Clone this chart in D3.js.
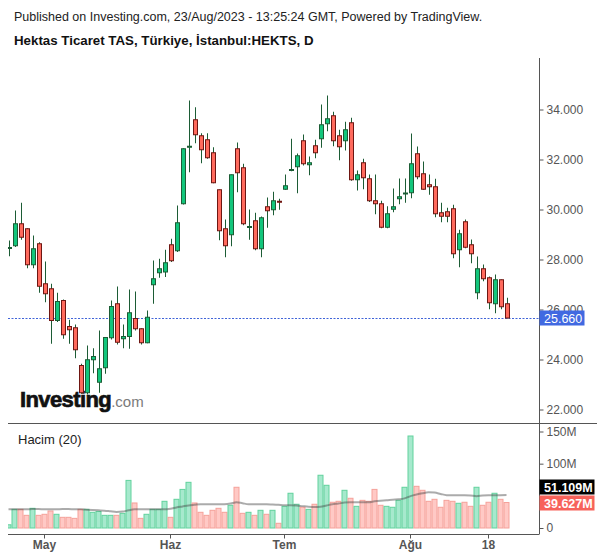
<!DOCTYPE html>
<html><head><meta charset="utf-8">
<script src="https://cdn.jsdelivr.net/npm/d3@7"></script>
<style>body{margin:0;background:#fff}svg{display:block;font-family:"Liberation Sans",Arial,sans-serif}</style>
</head><body><svg id="c" width="600" height="558"></svg>
<script>
const dates = ["2023-04-20","2023-04-24","2023-04-25","2023-04-26","2023-04-27","2023-04-28",
"2023-05-02","2023-05-03","2023-05-04","2023-05-05","2023-05-08","2023-05-09","2023-05-10","2023-05-11","2023-05-12","2023-05-15","2023-05-16","2023-05-17","2023-05-18","2023-05-22","2023-05-23","2023-05-24","2023-05-25","2023-05-26","2023-05-29","2023-05-30","2023-05-31",
"2023-06-01","2023-06-02","2023-06-05","2023-06-06","2023-06-07","2023-06-08","2023-06-09","2023-06-12","2023-06-13","2023-06-14","2023-06-15","2023-06-16","2023-06-19","2023-06-20","2023-06-21","2023-06-22","2023-06-23","2023-06-26","2023-06-27",
"2023-07-03","2023-07-04","2023-07-05","2023-07-06","2023-07-07","2023-07-10","2023-07-11","2023-07-12","2023-07-13","2023-07-14","2023-07-17","2023-07-18","2023-07-19","2023-07-20","2023-07-21","2023-07-24","2023-07-25","2023-07-26","2023-07-27","2023-07-28","2023-07-31",
"2023-08-01","2023-08-02","2023-08-03","2023-08-04","2023-08-07","2023-08-08","2023-08-09","2023-08-10","2023-08-11","2023-08-14","2023-08-15","2023-08-16","2023-08-17","2023-08-18","2023-08-21","2023-08-22","2023-08-23"];
const open  = [28.46,28.55,29.43,29.23,27.79,28.63,27.03,26.83,25.56,26.36,25.32,25.27,23.76,22.67,23.99,23.09,23.67,24.87,26.23,24.83,24.92,25.64,25.23,24.67,26.99,27.47,27.50,
28.59,28.35,30.23,32.50,33.59,32.95,32.79,32.27,30.79,29.23,28.99,32.43,31.67,29.30,29.55,28.43,30.11,29.99,30.33,
30.81,31.58,31.71,32.75,31.79,32.55,32.83,33.43,33.75,32.95,32.75,33.47,31.19,31.87,31.23,30.35,30.23,29.29,30.01,30.43,30.64,
30.67,32.23,31.43,30.99,30.91,29.87,29.91,30.03,28.39,29.51,28.59,26.67,27.63,27.27,26.23,27.19,26.23];
const high  = [28.76,29.96,30.27,29.25,28.96,28.69,27.92,27.03,26.67,26.40,25.59,25.40,23.83,24.56,24.45,25.16,24.88,26.36,26.92,25.40,26.80,26.72,25.25,25.96,27.96,28.03,28.39,
28.83,30.16,32.45,34.36,34.09,33.05,33.05,32.49,30.80,29.60,31.40,32.68,31.83,30.00,29.87,29.72,30.48,30.71,30.43,
31.40,32.83,32.24,33.00,32.12,32.79,34.20,34.56,33.91,33.19,33.51,33.67,31.56,32.03,31.40,31.40,30.35,30.13,30.84,31.24,31.24,
33.04,32.52,31.92,31.40,31.23,30.27,30.07,30.19,29.19,29.60,28.80,28.12,27.80,27.32,27.40,27.20,26.47];
const low   = [28.13,28.50,28.79,27.65,27.65,26.67,26.29,24.63,25.50,24.83,24.63,24.05,22.63,22.60,23.45,22.67,23.43,24.80,24.60,24.45,24.43,25.16,24.60,24.65,26.23,27.27,27.30,
27.90,28.30,30.20,31.49,32.65,31.85,32.03,31.05,28.77,28.09,28.53,30.69,29.37,28.79,28.37,28.09,29.27,29.77,29.99,
30.79,31.53,30.65,31.76,31.37,32.05,32.47,33.13,32.53,31.97,32.36,31.15,30.76,30.81,30.30,29.81,29.25,29.25,29.89,30.21,30.27,
30.45,31.21,30.79,30.59,29.69,29.49,29.49,28.05,27.69,28.45,27.85,26.41,27.13,26.01,25.85,26.01,25.64];
const close = [28.48,29.43,28.89,27.79,28.43,26.93,26.63,25.56,26.32,24.99,25.19,24.39,22.67,23.99,24.12,23.63,24.88,26.12,24.69,24.92,25.87,25.23,24.67,25.69,27.23,27.63,27.87,
27.95,29.47,32.43,32.53,32.99,32.39,32.07,31.07,29.15,28.55,31.39,31.47,29.43,29.32,28.43,29.67,29.95,30.35,30.31,
30.95,31.60,32.15,31.83,31.87,32.27,33.39,33.63,32.75,32.51,33.19,31.19,31.39,31.27,30.35,30.23,29.29,29.83,30.11,30.51,30.66,
31.83,31.31,30.81,30.91,29.83,29.73,29.73,28.23,29.03,28.49,28.23,27.63,27.23,26.27,27.19,26.11,25.66];
const volume = [5,29,29,19.7,30.6,19.7,21.3,26.4,21.3,16.6,16.6,15,29,29,24.4,25.7,19.7,19.7,19.7,22.8,74,38.9,15,21.3,29,29,41.5,
16.6,44.6,60,71,38.9,24.4,19.7,27.5,30.6,24.4,35.3,63.3,22.8,24.4,19.7,27.5,21.3,27.5,7.3,
33.7,54,36.9,32.2,29,36.9,82,66.4,40,41.5,58.6,46.2,33.7,43,41.5,60,35.3,33.7,32.2,43,63.3,
143,64.8,58.6,41.5,44.6,32.2,43,41.5,38.4,40,33.7,63.3,35.3,40,54,44.6,39.627];
const volumeMA = [29,29,29,29,29.5,29.5,29,29,29,29.5,29.5,29,29,28.5,28,27.5,27,26,25,25.5,27.5,29,29,29,29,29,29,
30,32,33.5,35,36,36.9,36.9,36.9,36.9,37,38,40,38.5,37,36.9,36.9,36.9,36.5,36,
35.3,35.3,35,34,33,32.5,33,35,36.9,38,39.5,40,40,40,40,41.5,42.5,43,44,44.6,46,
49.5,52,54,55.5,55,53,51,50.8,50.8,50.8,50.5,49.5,50.5,51,51,51.1,51.109];
const priceTicks = [22,24,26,28,30,32,34];
const volumeTicks = [0,100,150];
const timeTicks = ["2023-05-02","2023-06-01","2023-07-03","2023-08-01","2023-08-18"];
const timeLabels = ["May","Haz","Tem","Ağu","18"];
const lastPrice = 25.66, lastVolume = 39.627, lastMA = 51.109;

const svg = d3.select("#c");
const L = 8, R = 539;
const x = d3.scaleBand().domain(dates).range([5.5, 5.5 + 6*dates.length]).padding(0);
const y = d3.scaleLinear().domain([22,34]).range([409.5,109.5]);
const yv = d3.scaleLinear().domain([0,150]).range([528,431.5]);
const cx = d => x(d) + x.bandwidth()/2;

svg.append("rect").attr("width",600).attr("height",558).attr("fill","#fff");
svg.append("defs").append("clipPath").attr("id","clip").append("rect")
  .attr("x",L).attr("y",55).attr("width",R-L).attr("height",480);

// header
svg.append("text").attr("x",14).attr("y",21).attr("font-size",12.5).attr("fill","#222")
  .text("Published on Investing.com, 23/Aug/2023 - 13:25:24 GMT, Powered by TradingView.");
svg.append("text").attr("x",14).attr("y",45).attr("font-size",13.3).attr("font-weight","bold").attr("fill","#111")
  .text("Hektas Ticaret TAS, Türkiye, İstanbul:HEKTS, D");

// frame lines
svg.append("line").attr("x1",R+0.5).attr("x2",R+0.5).attr("y1",58).attr("y2",534.5).attr("stroke","#555");
svg.append("line").attr("x1",L).attr("x2",597).attr("y1",423.5).attr("y2",423.5).attr("stroke","#555");
svg.append("line").attr("x1",L).attr("x2",R).attr("y1",534.5).attr("y2",534.5).attr("stroke","#555");

const data = dates.map((d,i)=>({d,o:open[i],h:high[i],l:low[i],c:close[i],v:volume[i],ma:volumeMA[i]}));

// logo
const logo = svg.append("text").attr("x",20).attr("y",407);
logo.append("tspan").attr("font-size",22).attr("font-weight","bold").attr("fill","#111")
  .attr("stroke","#111").attr("stroke-width",0.7).attr("letter-spacing","-0.6").text("Investing");
logo.append("tspan").attr("font-size",15).attr("fill","#7a7a7a").text(".com");

const g = svg.append("g").attr("clip-path","url(#clip)");

// volume bars
g.selectAll(".vb").data(data).join("rect")
  .attr("x",d=>x(d.d)+0.5).attr("width",5)
  .attr("y",d=>yv(d.v)).attr("height",d=>yv(0)-yv(d.v))
  .attr("fill",d=>d.c>=d.o?"#a6e9cd":"#ffc9c5")
  .attr("stroke",d=>d.c>=d.o?"#62d29d":"#f5a19a").attr("stroke-width",1);
g.append("path").datum(data)
  .attr("d",d3.line().x(d=>cx(d.d)).y(d=>yv(d.ma)).curve(d3.curveMonotoneX))
  .attr("fill","none").attr("stroke","#444").attr("stroke-opacity",0.45).attr("stroke-width",2);

// last price dashed line
g.append("line").attr("x1",L).attr("x2",R).attr("y1",Math.round(y(lastPrice))+0.5).attr("y2",Math.round(y(lastPrice))+0.5)
  .attr("stroke","#3f63d8").attr("stroke-dasharray","2,1.5");

// candles
g.selectAll(".wk").data(data).join("line")
  .attr("x1",d=>Math.round(cx(d.d))+0.5).attr("x2",d=>Math.round(cx(d.d))+0.5)
  .attr("y1",d=>y(d.h)).attr("y2",d=>y(d.l))
  .attr("stroke","#1c5c35").attr("stroke-width",1);
g.selectAll(".bd").data(data).join("rect")
  .attr("x",d=>Math.round(cx(d.d))-1.5).attr("width",4)
  .attr("y",d=>y(Math.max(d.o,d.c))).attr("height",d=>Math.max(1,Math.abs(y(d.o)-y(d.c))))
  .attr("fill",d=>d.c>=d.o?"#12c67c":"#ff6a5d")
  .attr("stroke",d=>d.c>=d.o?"#1c5c35":"#6e1612").attr("stroke-width",1);

// price axis
const pa = svg.append("g").attr("transform",`translate(${R+0.5},0)`)
  .call(d3.axisRight(y).tickValues(priceTicks).tickFormat(d3.format(".3f")).tickSize(4).tickPadding(3));
pa.select(".domain").remove();
pa.selectAll("line").attr("stroke","#555");
pa.selectAll("text").attr("fill","#555").attr("font-size",12).attr("font-family","Liberation Sans, Arial, sans-serif");

// volume axis
const va = svg.append("g").attr("transform",`translate(${R+0.5},0)`)
  .call(d3.axisRight(yv).tickValues(volumeTicks).tickFormat(d=>d?d+"M":"0").tickSize(4).tickPadding(3));
va.select(".domain").remove();
va.selectAll("line").attr("stroke","#555");
va.selectAll("text").attr("fill","#555").attr("font-size",12).attr("font-family","Liberation Sans, Arial, sans-serif");

// time axis
const ta = svg.append("g").attr("transform","translate(0,534.5)")
  .call(d3.axisBottom(x).tickValues(timeTicks).tickFormat(d=>timeLabels[timeTicks.indexOf(d)]).tickSize(4).tickPadding(2));
ta.select(".domain").remove();
ta.selectAll("line").attr("stroke","#555");
ta.selectAll("text").attr("fill","#555").attr("font-size",12).attr("font-weight","bold").attr("font-family","Liberation Sans, Arial, sans-serif");

// labels
function tag(val, txt, fill, yy){
  svg.append("rect").attr("x",R+0.5).attr("y",yy-7.5).attr("width",txt.length>6?55:45).attr("height",15).attr("fill",fill);
  svg.append("text").attr("x",R+5).attr("y",yy+4.5).attr("fill","#fff").attr("font-size",12.5).attr("font-weight",txt.length>6?"bold":"normal").text(txt);
}
tag(lastPrice, "25.660", "#4169e1", y(lastPrice));
tag(lastMA, "51.109M", "#000", 487);
tag(lastVolume, "39.627M", "#f7625a", 503);

svg.append("text").attr("x",18).attr("y",444).attr("font-size",13).attr("fill","#222").text("Hacim (20)");
</script></body></html>
